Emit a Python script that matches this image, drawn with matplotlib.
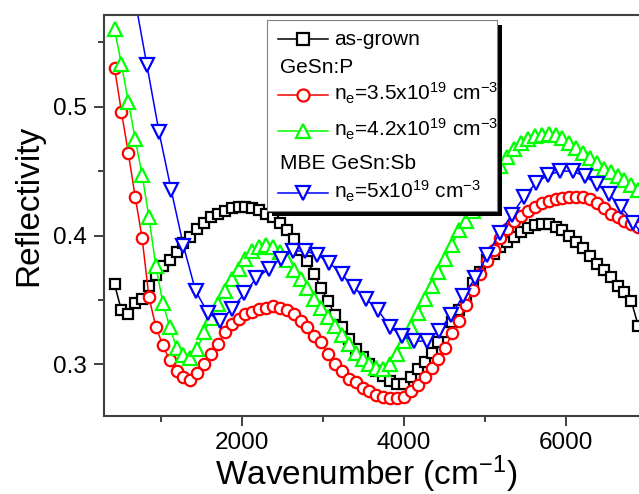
import matplotlib
matplotlib.use("Agg")
import matplotlib.pyplot as plt
from matplotlib.ticker import MultipleLocator
from matplotlib.patches import Rectangle
from matplotlib.lines import Line2D

plt.rcParams['font.family'] = ['Liberation Sans', 'DejaVu Sans']
plt.rcParams['mathtext.fontset'] = 'custom'
plt.rcParams['mathtext.rm'] = 'Liberation Sans'
plt.rcParams['mathtext.default'] = 'regular'

# wavenumber grid (cm^-1) for as-grown and GeSn:P samples
wn = [430, 515, 600, 685, 770, 855, 940, 1025, 1110, 1195,
      1280, 1365, 1450, 1535, 1620, 1705, 1790, 1875, 1960, 2045,
      2130, 2215, 2300, 2385, 2470, 2555, 2640, 2725, 2810, 2895,
      2980, 3065, 3150, 3235, 3320, 3405, 3490, 3575, 3660, 3745,
      3830, 3915, 4000, 4085, 4170, 4255, 4340, 4425, 4510, 4595,
      4680, 4765, 4850, 4935, 5020, 5105, 5190, 5275, 5360, 5445,
      5530, 5615, 5700, 5785, 5870, 5955, 6040, 6125, 6210, 6295,
      6380, 6465, 6550, 6635, 6720, 6805, 6890]

as_grown = [0.362, 0.342, 0.339, 0.348, 0.351, 0.361, 0.369, 0.376, 0.381, 0.387,
            0.394, 0.399, 0.405, 0.410, 0.414, 0.417, 0.419, 0.421, 0.422, 0.422,
            0.421, 0.420, 0.417, 0.414, 0.410, 0.404, 0.397, 0.389, 0.380, 0.370,
            0.359, 0.349, 0.338, 0.329, 0.320, 0.312, 0.306, 0.300, 0.295, 0.291,
            0.287, 0.285, 0.285, 0.290, 0.296, 0.302, 0.309, 0.317, 0.325, 0.333,
            0.342, 0.352, 0.363, 0.372, 0.381, 0.386, 0.391, 0.395, 0.399, 0.403,
            0.406, 0.408, 0.409, 0.409, 0.407, 0.404, 0.400, 0.395, 0.390, 0.384,
            0.378, 0.373, 0.368, 0.361, 0.356, 0.349, 0.330]

ne_35 = [0.530, 0.496, 0.464, 0.430, 0.398, 0.352, 0.329, 0.315, 0.303, 0.295,
         0.290, 0.288, 0.293, 0.300, 0.308, 0.316, 0.325, 0.331, 0.335, 0.339,
         0.341, 0.343, 0.344, 0.345, 0.344, 0.342, 0.339, 0.334, 0.329, 0.322,
         0.317, 0.308, 0.300, 0.295, 0.289, 0.286, 0.282, 0.279, 0.276, 0.275,
         0.274, 0.274, 0.275, 0.279, 0.284, 0.290, 0.297, 0.304, 0.313, 0.324,
         0.334, 0.346, 0.358, 0.370, 0.380, 0.389, 0.398, 0.405, 0.411, 0.415,
         0.419, 0.422, 0.425, 0.427, 0.428, 0.429, 0.430, 0.430, 0.430, 0.428,
         0.425, 0.421, 0.417, 0.414, 0.411, 0.409, 0.407]

ne_42 = [0.560, 0.533, 0.504, 0.475, 0.447, 0.414, 0.376, 0.348, 0.329, 0.313,
         0.307, 0.305, 0.312, 0.325, 0.336, 0.347, 0.357, 0.366, 0.374, 0.382,
         0.388, 0.391, 0.393, 0.391, 0.387, 0.381, 0.373, 0.366, 0.359, 0.351,
         0.344, 0.337, 0.330, 0.323, 0.316, 0.309, 0.304, 0.300, 0.297, 0.296,
         0.300, 0.308, 0.318, 0.329, 0.340, 0.351, 0.361, 0.372, 0.382, 0.393,
         0.404, 0.411, 0.419, 0.430, 0.440, 0.447, 0.454, 0.461, 0.467, 0.472,
         0.475, 0.477, 0.478, 0.479, 0.478, 0.476, 0.472, 0.468, 0.464, 0.460,
         0.456, 0.452, 0.449, 0.446, 0.443, 0.439, 0.435]

# MBE GeSn:Sb sample
wn_sb = [680, 830, 980, 1130, 1280, 1430, 1580, 1730, 1880, 2030,
         2180, 2330, 2480, 2630, 2780, 2930, 3080, 3230, 3380, 3530,
         3680, 3830, 3980, 4130, 4280, 4430, 4580, 4730, 4880, 5030,
         5180, 5330, 5480, 5630, 5780, 5930, 6080, 6230, 6380, 6530,
         6680, 6830, 6980]
ne_50 = [0.584, 0.532, 0.480, 0.435, 0.392, 0.357, 0.340, 0.334, 0.343, 0.355,
         0.367, 0.374, 0.382, 0.388, 0.388, 0.385, 0.379, 0.370, 0.360, 0.351,
         0.342, 0.329, 0.322, 0.318, 0.318, 0.326, 0.338, 0.353, 0.367, 0.385,
         0.402, 0.416, 0.430, 0.441, 0.447, 0.450, 0.450, 0.446, 0.440, 0.432,
         0.422, 0.410, 0.398]

W, H = 639, 494
fig = plt.figure(figsize=(W / 100, H / 100), dpi=100)

# axes runs past the right edge of the picture (cropped figure)
ax_w = 608.0
ax = fig.add_axes([104 / W, 1 - 415.6 / H, ax_w / W, 400.6 / H])

series = [
    (wn, as_grown, 'black', 's', 7.6),
    (wn, ne_35, 'red', 'o', 8.2),
    (wn, ne_42, '#00FF00', '^', 9.6),
    (wn_sb, ne_50, 'blue', 'v', 9.6),
]
for x, y, c, m, ms in series:
    ax.plot(x, y, color=c, lw=1.1, marker=m, ms=ms, mfc='white', mec=c, mew=1.6)

ax.set_xlim(300, 7800)
ax.set_ylim(0.2602, 0.5712)
ax.xaxis.set_major_locator(MultipleLocator(2000))
ax.xaxis.set_minor_locator(MultipleLocator(1000))
ax.yaxis.set_major_locator(MultipleLocator(0.1))
ax.yaxis.set_minor_locator(MultipleLocator(0.05))

spine_c = '#404040'
for s in ax.spines.values():
    s.set_color(spine_c)
    s.set_linewidth(1.5)
ax.tick_params(which='major', direction='out', length=7, width=1.4, color=spine_c,
               labelsize=17.5, pad=5, top=False, right=False)
ax.tick_params(which='minor', direction='out', length=4, width=1.4, color=spine_c,
               top=False, right=False)

ax.set_xlabel('Wavenumber (cm$^{-1}$)', fontsize=24)
ax.set_ylabel('Reflectivity', fontsize=24)
ax.xaxis.set_label_coords((366.5 - 104) / ax_w, (415.6 - 453) / 400.6)
ax.yaxis.set_label_coords((44 - 104) / ax_w, 1 - (205.5 - 15) / 400.6)


def fx(px):
    return px / W


def fy(py):
    return 1 - py / H


# legend box with shadow
fig.add_artist(Rectangle((fx(272), fy(216)), 230 / W, 191 / H, transform=fig.transFigure,
                         facecolor='black', edgecolor='none', zorder=5))
fig.add_artist(Rectangle((fx(267), fy(211)), 230 / W, 191 / H, transform=fig.transFigure,
                         facecolor='white', edgecolor='#808080', lw=0.8, zorder=6))

legend_rows = [
    ('as-grown', 45, series[0]),
    ('GeSn:P', 73, None),
    ('n$_e$=3.5x10$^{19}$ cm$^{-3}$', 100.5, series[1]),
    ('n$_e$=4.2x10$^{19}$ cm$^{-3}$', 136.5, series[2]),
    ('MBE GeSn:Sb', 169, None),
    ('n$_e$=5x10$^{19}$ cm$^{-3}$', 198.5, series[3]),
]
for label, base, s in legend_rows:
    if s is None:
        fig.text(fx(280), fy(base), label, fontsize=15, ha='left', va='baseline', zorder=7)
        continue
    _, _, c, m, ms = s
    yc = fy(base - 6)
    fig.add_artist(Line2D([fx(278), fx(328)], [yc, yc], transform=fig.transFigure,
                          color=c, lw=1.1, zorder=7))
    fig.add_artist(Line2D([fx(303)], [yc], transform=fig.transFigure, color=c,
                          marker=m, ms=ms + 0.5, mfc='white', mec=c, mew=1.6, zorder=8))
    fig.text(fx(334), fy(base), label, fontsize=15, ha='left', va='baseline', zorder=7)

fig.savefig('out.png', dpi=100)
